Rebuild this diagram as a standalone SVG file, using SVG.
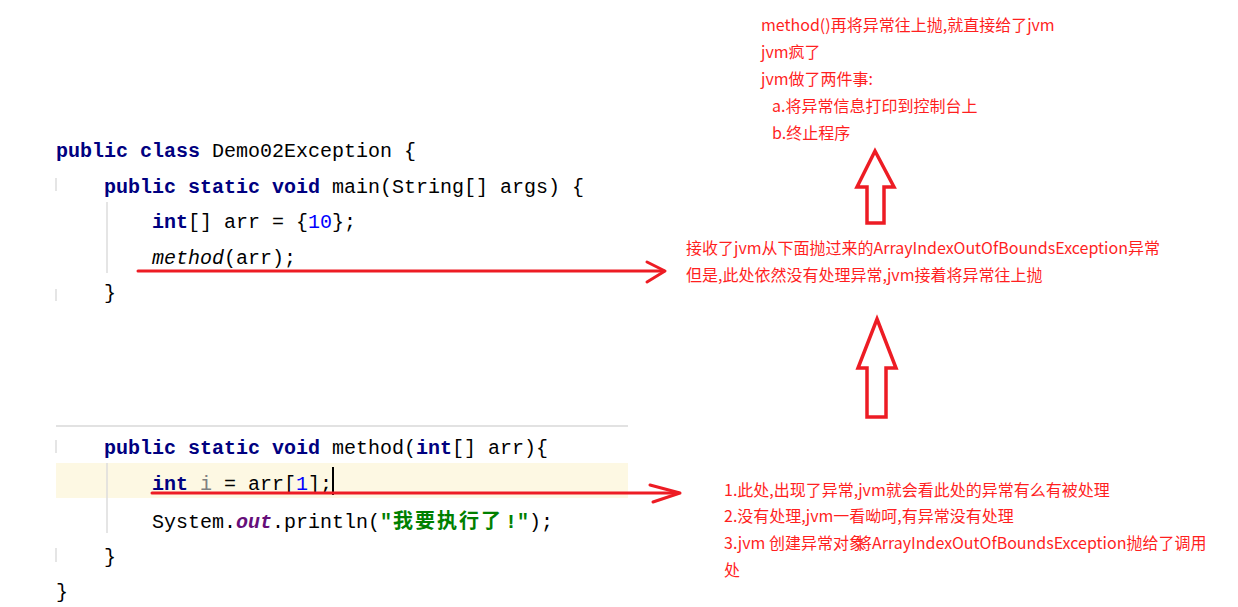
<svg xmlns="http://www.w3.org/2000/svg" width="1238" height="607" viewBox="0 0 1238 607">
<style>
.code{font-family:"Liberation Mono","Courier New",monospace;font-size:20px;fill:#000000;white-space:pre}
.kw{fill:#000080;font-weight:bold}
.num{fill:#0000ff}
.unused{fill:#808080}
.field{fill:#660e7a;font-weight:bold;font-style:italic}
.str{fill:#008000;font-weight:bold}
.cjkstr{font-family:"Noto Sans CJK SC","Noto Sans CJK JP",sans-serif;fill:#008000;font-weight:bold}
.it{font-style:italic}
.guide{stroke:#dddddd;stroke-width:1.5}
.note{font-family:"Noto Sans CJK SC","Microsoft YaHei",sans-serif;font-size:16px;fill:#ff1f1f;white-space:pre}
.red{stroke:#ed1c24;stroke-width:3;fill:none;stroke-linecap:round;stroke-linejoin:round}
.blk{stroke:#ed1c24;stroke-width:3.5;fill:#ffffff;stroke-linejoin:miter}
</style>
<rect x="0" y="0" width="1238" height="607" fill="#ffffff"/>

<g id="code-main">
  <line class="guide" x1="56" y1="178" x2="56" y2="191"/>
  <line class="guide" x1="56" y1="289" x2="56" y2="301"/>
  <line class="guide" x1="107" y1="202" x2="107" y2="273"/>
  <text class="code" x="56" y="157"><tspan class="kw">public class</tspan> Demo02Exception {</text>
  <text class="code" x="104" y="193"><tspan class="kw">public static void</tspan> main(String[] args) {</text>
  <text class="code" x="152" y="228"><tspan class="kw">int</tspan>[] arr = {<tspan class="num">10</tspan>};</text>
  <text class="code" x="152" y="264"><tspan class="it">method</tspan>(arr);</text>
  <text class="code" x="104" y="299">}</text>
</g>

<g id="code-method">
  <line x1="56" y1="426" x2="628" y2="426" stroke="#d9d9d9" stroke-width="1.5"/>
  <rect x="56" y="463" width="572" height="35" fill="#fdf8e3"/>
  <line class="guide" x1="56" y1="440" x2="56" y2="453"/>
  <line class="guide" x1="56" y1="548" x2="56" y2="562"/>
  <line class="guide" x1="107" y1="463" x2="107" y2="533"/>
  <text class="code" x="104" y="454"><tspan class="kw">public static void</tspan> method(<tspan class="kw">int</tspan>[] arr){</text>
  <text class="code" x="152" y="490"><tspan class="kw">int</tspan> <tspan class="unused">i</tspan> = arr[<tspan class="num">1</tspan>];</text>
  <line x1="333" y1="467" x2="333" y2="495" stroke="#000000" stroke-width="2"/>
  <text class="code" x="152" y="528">System.<tspan class="field">out</tspan>.println(<tspan class="str">"</tspan></text>
  <text class="cjkstr" x="393" y="528" font-size="20" letter-spacing="2">我要执行了</text>
  <text class="code" x="505" y="528"><tspan class="str">!"</tspan>);</text>
  <text class="code" x="104" y="563">}</text>
  <text class="code" x="56" y="598">}</text>
</g>

<g id="note-top">
  <text class="note" x="761" y="31">method()再将异常往上抛,就直接给了jvm</text>
  <text class="note" x="761" y="58">jvm疯了</text>
  <text class="note" x="761" y="85">jvm做了两件事:</text>
  <text class="note" x="772" y="112">a.将异常信息打印到控制台上</text>
  <text class="note" x="772" y="139">b.终止程序</text>
</g>

<g id="note-middle">
  <text class="note" x="686" y="254">接收了jvm从下面抛过来的ArrayIndexOutOfBoundsException异常</text>
  <text class="note" x="686" y="281">但是,此处依然没有处理异常,jvm接着将异常往上抛</text>
</g>

<g id="note-bottom">
  <text class="note" x="724" y="496">1.此处,出现了异常,jvm就会看此处的异常有么有被处理</text>
  <text class="note" x="724" y="522">2.没有处理,jvm一看呦呵,有异常没有处理</text>
  <text class="note" x="724" y="549">3.jvm 创建异常对象</text>
  <text class="note" x="856" y="549">将ArrayIndexOutOfBoundsException抛给了调用</text>
  <text class="note" x="724" y="576">处</text>
</g>

<g id="connectors">
  <line class="red" x1="138" y1="271" x2="664" y2="271"/>
  <polyline class="red" points="647,262 665,271 647,282"/>
  <line class="red" x1="152" y1="493" x2="678" y2="493"/>
  <polyline class="red" points="650,485 680,493 653,502"/>
  <polygon class="blk" points="875,151 894,187 884,187 884,223 867,223 867,187 857,187"/>
  <polygon class="blk" points="877,319 896,368 886,368 886,417 867,417 867,368 858,368"/>
</g>
</svg>
